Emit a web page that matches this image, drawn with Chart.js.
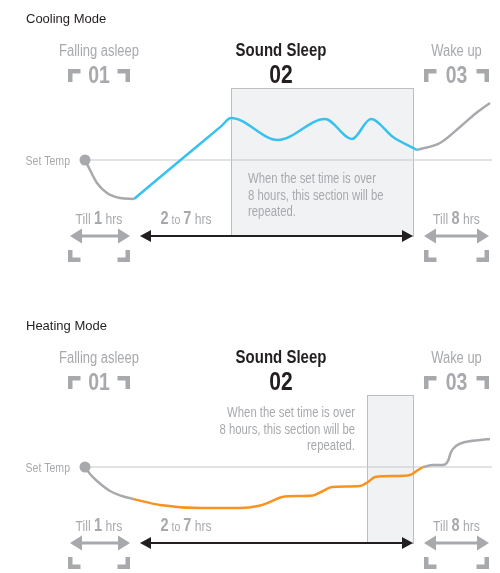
<!DOCTYPE html>
<html>
<head>
<meta charset="utf-8">
<script src="https://cdn.jsdelivr.net/npm/chart.js@4.4.1/dist/chart.umd.min.js"></script>
<style>
  html, body { margin: 0; padding: 0; background: #fff; }
  #wrap { position: relative; width: 500px; height: 573px; overflow: hidden; }
  .panel { position: absolute; left: 0; width: 500px; }
</style>
</head>
<body>
<div id="wrap">
  <div class="panel" style="top:0;height:307px"><canvas id="cool" width="500" height="307"></canvas></div>
  <div class="panel" style="top:307px;height:266px"><canvas id="heat" width="500" height="266"></canvas></div>
</div>
<script>
// schematic time axis (hours-ish) and temperature relative to the set temp
const phaseNames = ["Falling asleep", "Sound Sleep", "Wake up"];
const phaseNumbers = ["01", "02", "03"];
const phase1Span = [-0.34, 0.9];
const phase3Span = [6.78, 8.08];
const phase2Center = 3.92;
const sleepArrowSpan = [1.1, 6.56];
const durationTexts = [["Till ", "1", " hrs"], ["2", " to ", "7", " hrs"], ["Till ", "8", " hrs"]];
const durationCenters = [0.28, 2.02, 7.43];
const repeatNote = ["When the set time is over", "8 hours, this section will be", "repeated."];
const bandTop = 3.6;
const bandBottom = -3.8;
const setTempEnd = 8.14;

// Cooling mode
const coolFallT = [0, 0.1, 0.24, 0.44, 0.7, 0.98];
const coolFallV = [0, -0.5, -1.15, -1.65, -1.9, -1.95];
const coolSleepT = [0.98, 1.96, 2.72, 2.92, 3.86, 4.8, 5.34, 5.72, 6.16, 6.64];
const coolSleepV = [-1.95, 0.1, 1.68, 2.1, 1.0, 2.05, 1.05, 2.05, 1.15, 0.5];
const coolWakeT = [6.64, 7.1, 7.5, 7.8, 8.1];
const coolWakeV = [0.5, 0.85, 1.65, 2.3, 2.85];
const coolBand = [2.92, 6.56];

// Heating mode
const heatFallT = [0, 0.1, 0.24, 0.5, 0.74, 0.96];
const heatFallV = [0, -0.35, -0.7, -1.2, -1.45, -1.6];
const heatSleepT = [0.96, 1.5, 2.3, 3.1, 3.46, 3.7, 3.94, 4.3, 4.56, 4.76, 4.94, 5.5, 5.66, 5.8, 6.2, 6.5, 6.66, 6.76];
const heatSleepV = [-1.6, -1.9, -2.05, -2.05, -1.95, -1.75, -1.5, -1.45, -1.42, -1.2, -1.0, -0.95, -0.75, -0.5, -0.45, -0.4, -0.15, 0];
const heatWakeT = [6.76, 6.96, 7.16, 7.26, 7.32, 7.42, 7.6, 7.9, 8.1];
const heatWakeV = [0, 0.1, 0.1, 0.3, 0.75, 1.05, 1.25, 1.35, 1.4];
const heatBand = [5.64, 6.56];

const GRAY = "#a7a9ac";
const DARK = "#231f20";
const SANS = '"Liberation Sans", Arial, sans-serif';
const SQ = 0.81; // horizontal squeeze to mimic a condensed face

function toPoints(ts, vs) {
  return ts.map((t, i) => ({ x: t, y: vs[i] }));
}

function narrowWidth(ctx, text, font) {
  ctx.font = font;
  return ctx.measureText(text).width * SQ;
}

function fillNarrow(ctx, text, x, y, font, align) {
  ctx.save();
  ctx.translate(x, y);
  ctx.scale(SQ, 1);
  ctx.font = font;
  ctx.textAlign = align;
  ctx.fillText(text, 0, 0);
  ctx.restore();
}

function drawArrow(ctx, x1, x2, y, color, w, head, half) {
  ctx.save();
  ctx.strokeStyle = color;
  ctx.fillStyle = color;
  ctx.lineWidth = w;
  ctx.beginPath();
  ctx.moveTo(x1 + head - 1, y);
  ctx.lineTo(x2 - head + 1, y);
  ctx.stroke();
  ctx.beginPath();
  ctx.moveTo(x1, y);
  ctx.lineTo(x1 + head, y - half);
  ctx.lineTo(x1 + head, y + half);
  ctx.closePath();
  ctx.fill();
  ctx.beginPath();
  ctx.moveTo(x2, y);
  ctx.lineTo(x2 - head, y - half);
  ctx.lineTo(x2 - head, y + half);
  ctx.closePath();
  ctx.fill();
  ctx.restore();
}

function drawRich(ctx, parts, cx, y, color) {
  const styled = parts.map((p) => ({
    t: p,
    font: /^\d$/.test(p) ? `bold 18px ${SANS}` : p.trim() === "to" ? `13px ${SANS}` : `15px ${SANS}`,
  }));
  let total = 0;
  styled.forEach((s) => {
    s.w = narrowWidth(ctx, s.t, s.font);
    total += s.w;
  });
  let x = cx - total / 2;
  ctx.fillStyle = color;
  styled.forEach((s) => {
    fillNarrow(ctx, s.t, x, y, s.font, "left");
    x += s.w;
  });
}

// corner marks: top pair hugs the phase number, bottom pair under the arrow
function drawCorners(ctx, x0, x1, top, bottom) {
  const len = 12.5, th = 4.5;
  ctx.fillStyle = GRAY;
  if (top !== null) {
    ctx.fillRect(x0, top, len, th);
    ctx.fillRect(x0, top, th, 13);
    ctx.fillRect(x1 - len, top, len, th);
    ctx.fillRect(x1 - th, top, th, 13);
  }
  if (bottom !== null) {
    ctx.fillRect(x0, bottom, th, 12);
    ctx.fillRect(x0, bottom + 7.5, len, th);
    ctx.fillRect(x1 - th, bottom, th, 12);
    ctx.fillRect(x1 - len, bottom + 7.5, len, th);
  }
}

function diagramPlugin(cfg) {
  return {
    id: "diagram_" + cfg.id,
    beforeDatasetsDraw(chart) {
      const { ctx, scales } = chart;
      const l = scales.x.getPixelForValue(cfg.band[0]);
      const r = scales.x.getPixelForValue(cfg.band[1]);
      const t = scales.y.getPixelForValue(bandTop);
      const b = scales.y.getPixelForValue(bandBottom);
      ctx.save();
      ctx.fillStyle = "#f1f2f4";
      ctx.fillRect(l, t, r - l, b - t);
      ctx.strokeStyle = "#bdbec0";
      ctx.lineWidth = 1;
      ctx.strokeRect(Math.round(l) + 0.5, Math.round(t) + 0.5, Math.round(r - l), Math.round(b - t));
      ctx.restore();
    },
    afterDraw(chart) {
      const { ctx, scales } = chart;
      const px = (t) => scales.x.getPixelForValue(t);
      const zeroY = scales.y.getPixelForValue(0);
      const arrowY = scales.y.getPixelForValue(bandBottom);
      ctx.save();
      ctx.textBaseline = "alphabetic";

      ctx.fillStyle = DARK;
      ctx.textAlign = "left";
      ctx.font = `13px ${SANS}`;
      ctx.fillText(cfg.title, 26, 23);

      const centers = [(px(phase1Span[0]) + px(phase1Span[1])) / 2, px(phase2Center), (px(phase3Span[0]) + px(phase3Span[1])) / 2];
      phaseNames.forEach((name, i) => {
        ctx.fillStyle = i === 1 ? DARK : GRAY;
        fillNarrow(ctx, name, centers[i], 56, i === 1 ? `bold 18.5px ${SANS}` : `16px ${SANS}`, "center");
        fillNarrow(ctx, phaseNumbers[i], centers[i], 82.5, i === 1 ? `bold 26px ${SANS}` : `bold 24px ${SANS}`, "center");
      });
      drawCorners(ctx, px(phase1Span[0]), px(phase1Span[1]), 69, null);
      drawCorners(ctx, px(phase3Span[0]), px(phase3Span[1]), 69, null);

      ctx.fillStyle = GRAY;
      fillNarrow(ctx, "Set Temp", 70, zeroY + 4.5, `13px ${SANS}`, "right");

      const bandL = px(cfg.band[0]);
      repeatNote.forEach((line, i) => {
        if (cfg.noteAlign === "left") {
          fillNarrow(ctx, line, bandL + 17, cfg.noteY + i * 16.5, `14px ${SANS}`, "left");
        } else {
          fillNarrow(ctx, line, bandL - 12, cfg.noteY + i * 16.5, `14px ${SANS}`, "right");
        }
      });

      durationTexts.forEach((parts, i) => drawRich(ctx, parts, px(durationCenters[i]), 224, GRAY));

      drawArrow(ctx, px(phase1Span[0]) + 2, px(phase1Span[1]), arrowY, GRAY, 3, 12, 7.5);
      drawArrow(ctx, px(phase3Span[0]), px(phase3Span[1]), arrowY, GRAY, 3, 12, 7.5);
      drawArrow(ctx, px(sleepArrowSpan[0]), px(sleepArrowSpan[1]), arrowY, DARK, 2, 11, 6);
      drawCorners(ctx, px(phase1Span[0]), px(phase1Span[1]), null, 250);
      drawCorners(ctx, px(phase3Span[0]), px(phase3Span[1]), null, 250);
      ctx.restore();
    },
  };
}

function buildChart(cfg) {
  const el = document.getElementById(cfg.id);
  const line = (points, color) => ({
    data: points,
    borderColor: color,
    borderWidth: 2.5,
    cubicInterpolationMode: "monotone",
    pointRadius: 0,
    fill: false,
  });
  const fall = line(toPoints(cfg.fallT, cfg.fallV), GRAY);
  fall.pointRadius = (c) => (c.dataIndex === 0 ? 5.5 : 0);
  fall.pointBackgroundColor = GRAY;
  fall.pointBorderWidth = 0;
  return new Chart(el.getContext("2d"), {
    type: "line",
    data: {
      datasets: [
        fall,
        line(toPoints(cfg.sleepT, cfg.sleepV), cfg.color),
        line(toPoints(cfg.wakeT, cfg.wakeV), GRAY),
        {
          data: toPoints([0, setTempEnd], [0, 0]),
          borderColor: "#c6c7c9",
          borderWidth: 1.2,
          pointRadius: 0,
        },
      ],
    },
    options: {
      responsive: false,
      animation: false,
      layout: { padding: 0, autoPadding: false },
      plugins: { legend: { display: false }, tooltip: { enabled: false } },
      scales: {
        x: { type: "linear", display: false, min: -1.7, max: 8.3 },
        y: { display: false, min: cfg.yMin, max: 8 },
      },
    },
    plugins: [diagramPlugin(cfg)],
  });
}

buildChart({
  id: "cool", title: "Cooling Mode", color: "#38c1ef",
  fallT: coolFallT, fallV: coolFallV, sleepT: coolSleepT, sleepV: coolSleepV, wakeT: coolWakeT, wakeV: coolWakeV,
  band: coolBand, noteAlign: "left", noteY: 183, yMin: -7.35,
});
buildChart({
  id: "heat", title: "Heating Mode", color: "#f7931e",
  fallT: heatFallT, fallV: heatFallV, sleepT: heatSleepT, sleepV: heatSleepV, wakeT: heatWakeT, wakeV: heatWakeV,
  band: heatBand, noteAlign: "right", noteY: 110, yMin: -5.3,
});
</script>
</body>
</html>
